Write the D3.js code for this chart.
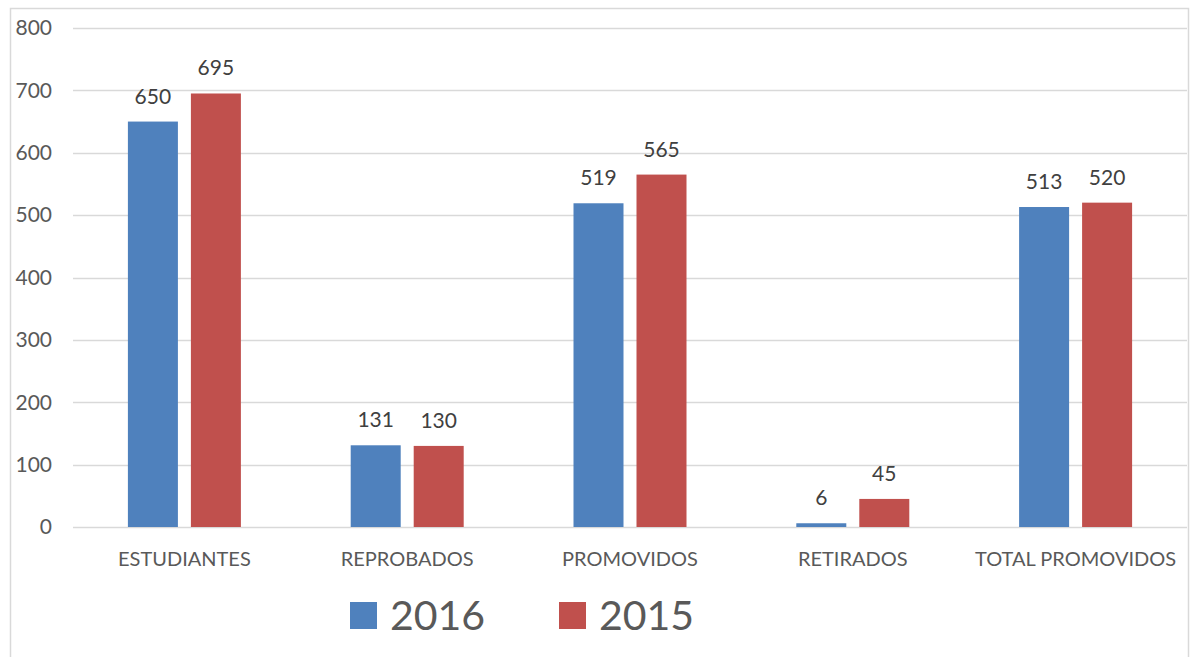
<!DOCTYPE html>
<html>
<head>
<meta charset="utf-8">
<script src="https://cdn.jsdelivr.net/npm/d3@7"></script>
<style>
  html, body { margin: 0; padding: 0; background: #fff; }
  svg { display: block; font-family: Lato, "Open Sans", sans-serif; }
</style>
</head>
<body>
<svg id="chart" width="1194" height="657"></svg>
<script>
const categories = ['ESTUDIANTES', 'REPROBADOS', 'PROMOVIDOS', 'RETIRADOS', 'TOTAL PROMOVIDOS'];
const seriesNames = ['2016', '2015'];
const values2016 = [650, 131, 519, 6, 513];
const values2015 = [695, 130, 565, 45, 520];
const yTicks = [0, 100, 200, 300, 400, 500, 600, 700, 800];
const colors = ['#4F81BD', '#C0504D'];

const seriesValues = [values2016, values2015];
const rows = categories.map((c, i) => ({
  category: c,
  values: seriesNames.map((s, j) => ({ series: s, value: seriesValues[j][i] }))
}));

const svg = d3.select('#chart');
const textColor = '#595959';

// outer chart border
svg.append('rect')
  .attr('x', 10.5)
  .attr('y', 8.5)
  .attr('width', 1178)
  .attr('height', 660)
  .style('fill', 'none')
  .style('stroke', '#D9D9D9')
  .style('stroke-width', 1.5);

const y = d3.scaleLinear().domain([0, 800]).range([527, 28]);
const x0 = d3.scaleBand().domain(categories).range([73, 1187]);
const groupW = 113;
const x1 = d3.scaleBand()
  .domain(seriesNames)
  .range([0, groupW])
  .paddingInner(0.2063);

// gridlines
svg.append('g')
  .selectAll('line')
  .data(yTicks)
  .join('line')
  .attr('x1', 73)
  .attr('x2', 1187)
  .attr('y1', d => Math.round(y(d)) + 0.5)
  .attr('y2', d => Math.round(y(d)) + 0.5)
  .style('stroke', '#D9D9D9')
  .style('stroke-width', 1.5);

// y tick labels
svg.append('g')
  .selectAll('text')
  .data(yTicks)
  .join('text')
  .attr('x', 52)
  .attr('y', d => y(d))
  .attr('dy', '0.35em')
  .attr('text-anchor', 'end')
  .style('font-size', '21px')
  .style('fill', textColor)
  .text(d => d);

// bars
const groups = svg.append('g')
  .selectAll('g')
  .data(rows)
  .join('g')
  .attr('transform', d => `translate(${x0(d.category) + x0.bandwidth() / 2 - groupW / 2},0)`);

groups.selectAll('rect')
  .data(d => d.values)
  .join('rect')
  .attr('x', d => x1(d.series))
  .attr('y', d => y(d.value))
  .attr('width', x1.bandwidth())
  .attr('height', d => y(0) - y(d.value))
  .style('fill', (d, i) => colors[i]);

// data labels
groups.selectAll('text')
  .data(d => d.values)
  .join('text')
  .attr('x', d => x1(d.series) + x1.bandwidth() / 2)
  .attr('y', d => y(d.value) - 18)
  .attr('text-anchor', 'middle')
  .style('font-size', '21px')
  .style('fill', '#404040')
  .text(d => d.value);

// category labels
svg.append('g')
  .selectAll('text')
  .data(categories)
  .join('text')
  .attr('x', d => x0(d) + x0.bandwidth() / 2)
  .attr('y', 566)
  .attr('text-anchor', 'middle')
  .style('font-size', '20px')
  .style('fill', textColor)
  .text(d => d);

// legend
const legendX = [350, 559];
const legend = svg.append('g')
  .selectAll('g')
  .data(seriesNames)
  .join('g')
  .attr('transform', (d, i) => `translate(${legendX[i]},602)`);

legend.append('rect')
  .attr('width', 27)
  .attr('height', 27)
  .style('fill', (d, i) => colors[i]);

legend.append('text')
  .attr('x', 40)
  .attr('y', 28)
  .style('font-size', '41px')
  .style('fill', textColor)
  .text(d => d);
</script>
</body>
</html>
